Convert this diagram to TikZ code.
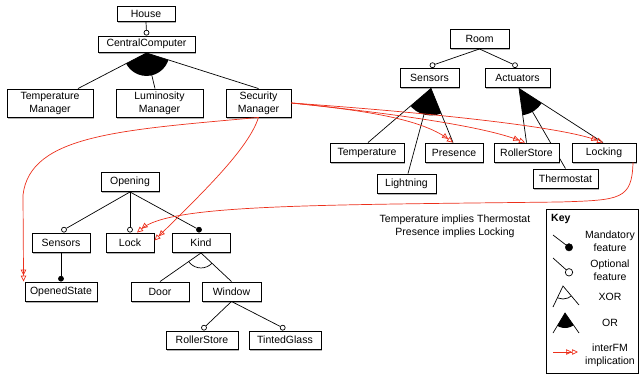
\documentclass[tikz,border=0pt]{standalone}
\usepackage{fontspec}
\setmainfont{Liberation Sans}
\usetikzlibrary{shadows,arrows.meta,calc}
\definecolor{implred}{RGB}{236,48,28}
\pgfdeclarelayer{lines}
\pgfsetlayers{lines,main}

\begin{document}
\begin{tikzpicture}[x=1pt,y=-1pt,
  font=\fontsize{10.5}{13}\selectfont,
  feat/.style={draw=black, line width=0.9pt, fill=white, inner sep=0pt, align=center,
    drop shadow={shadow xshift=1.4pt, shadow yshift=-1.6pt, fill=black, opacity=0.3}},
  conn/.style={draw=black, line width=0.7pt},
  optc/.style={circle, draw=black, fill=white, line width=0.7pt, inner sep=0pt, minimum size=5pt, anchor=south},
  mandc/.style={circle, draw=black, fill=black, line width=0.7pt, inner sep=0pt, minimum size=5pt, anchor=south},
  impl/.style={draw=implred, line width=0.7pt,
    -{Triangle[open,length=6pt,width=5.5pt]Triangle[open,length=6pt,width=5.5pt]}},
  keytext/.style={align=center, inner sep=0pt}
]
\useasboundingbox (0,0) rectangle (640,378);

% ---------- feature boxes ----------
% House model
\node[feat, minimum width=58pt, minimum height=15pt] (House) at (146,14) {House};
\node[feat, minimum width=97pt, minimum height=16pt] (CC) at (146.5,44) {CentralComputer};
\node[feat, minimum width=86pt, minimum height=28pt] (TM) at (50,103) {Temperature\\Manager};
\node[feat, minimum width=87pt, minimum height=28pt] (LM) at (159.5,103) {Luminosity\\Manager};
\node[feat, minimum width=65pt, minimum height=28pt] (SM) at (258.5,103) {Security\\Manager};

% Room model
\node[feat, minimum width=59pt, minimum height=19pt] (Room) at (479.5,39) {Room};
\node[feat, minimum width=59pt, minimum height=19pt] (SensR) at (429.5,78) {Sensors};
\node[feat, minimum width=65pt, minimum height=19pt] (Act) at (517.5,78) {Actuators};
\node[feat, minimum width=74pt, minimum height=19pt] (Temp) at (367,152.5) {Temperature};
\node[feat, minimum width=58pt, minimum height=19pt] (Pres) at (454,152.5) {Presence};
\node[feat, minimum width=65pt, minimum height=19pt] (RSR) at (526.5,152.5) {RollerStore};
\node[feat, minimum width=64pt, minimum height=19pt] (Locking) at (604,152.5) {Locking};
\node[feat, minimum width=59pt, minimum height=19pt] (Light) at (406.5,183.5) {Lightning};
\node[feat, minimum width=65pt, minimum height=19pt] (Thermo) at (565.5,178.5) {Thermostat};

% Opening model
\node[feat, minimum width=58pt, minimum height=19pt] (Opening) at (130,182) {Opening};
\node[feat, minimum width=58pt, minimum height=19pt] (SensL) at (61,242.5) {Sensors};
\node[feat, minimum width=48pt, minimum height=19pt] (Lock) at (130,242.5) {Lock};
\node[feat, minimum width=58pt, minimum height=19pt] (Kind) at (201,242.5) {Kind};
\node[feat, minimum width=72pt, minimum height=19pt] (OS) at (61,291.5) {OpenedState};
\node[feat, minimum width=58pt, minimum height=19pt] (Door) at (160,291.5) {Door};
\node[feat, minimum width=59pt, minimum height=19pt] (Window) at (231.5,291.5) {Window};
\node[feat, minimum width=72pt, minimum height=18pt] (RSL) at (202,340) {RollerStore};
\node[feat, minimum width=72pt, minimum height=18pt] (TG) at (285,340) {TintedGlass};

% ---------- optional / mandatory markers ----------
\node[optc] (oCC) at (CC.north) {};
\node[optc] (oSensR) at ([xshift=3pt]SensR.north) {};
\node[optc] (oAct) at ([xshift=-2.5pt]Act.north) {};
\node[optc] (oSensL) at ([xshift=3pt]SensL.north) {};
\node[optc] (oLock) at (Lock.north) {};
\node[mandc] (mKind) at ([xshift=-2pt]Kind.north) {};
\node[mandc] (mOS) at (OS.north) {};
\node[optc] (oRSL) at ([xshift=2pt]RSL.north) {};
\node[optc] (oTG) at ([xshift=-2.3pt]TG.north) {};

% group apexes and end points
\coordinate (apCC) at ([yshift=-0.5pt]CC.south);
\coordinate (eTM) at ([xshift=28pt]TM.north);
\coordinate (eLM) at ([xshift=-4.5pt]LM.north);
\coordinate (eSM) at (SM.north);
\coordinate (apS) at ([xshift=1.5pt,yshift=-0.5pt]SensR.south);
\coordinate (eTemp) at ([xshift=1pt]Temp.north);
\coordinate (eLight) at ([xshift=1.5pt]Light.north);
\coordinate (ePres) at ([xshift=-1pt]Pres.north);
\coordinate (apA) at ([xshift=1.5pt,yshift=-0.5pt]Act.south);
\coordinate (eRSR) at (RSR.north);
\coordinate (eThermo) at (Thermo.north);
\coordinate (eLocking) at ([xshift=-1pt]Locking.north);
\coordinate (apK) at ([yshift=-0.5pt]Kind.south);

% ---------- parent-child connectors (below the boxes) ----------
\begin{pgfonlayer}{lines}
\draw[conn] (House.south) -- (oCC);
\draw[conn] (Room.south) -- (oSensR);
\draw[conn] (Room.south) -- (oAct);
\draw[conn] (Opening.south) -- (oSensL);
\draw[conn] (Opening.south) -- (oLock);
\draw[conn] (Opening.south) -- (mKind);
\draw[conn] (SensL.south) -- (mOS);
\draw[conn] (Window.south) -- (oRSL);
\draw[conn] (Window.south) -- (oTG);

% OR groups: lines plus filled sector
\foreach \ap/\ea/\eb/\ec/\r in {apCC/eTM/eLM/eSM/23, apS/eTemp/eLight/ePres/27, apA/eRSR/eThermo/eLocking/27}{
  \draw[conn] (\ap) -- (\ea);
  \draw[conn] (\ap) -- (\eb);
  \draw[conn] (\ap) -- (\ec);
  \begin{scope}
    \clip (\ap) -- ($(\ap)!3!(\ea)$) -- ($(\ap)!3!(\ec)$) -- cycle;
    \fill[black] (\ap) circle[radius=\r pt];
  \end{scope}
}

% XOR group under Kind
\draw[conn] (apK) -- (Door.north);
\draw[conn] (apK) -- (Window.north);
\begin{scope}
  \clip (apK) -- ($(apK)!3!(Door.north)$) -- ($(apK)!3!(Window.north)$) -- cycle;
  \draw[conn] (apK) circle[radius=15pt];
\end{scope}
\end{pgfonlayer}

% ---------- inter-model implications ----------
\draw[impl] (SM.east) .. controls (360,110) and (420,118) .. (ePres);
\draw[impl] (SM.east) .. controls (380,112) and (480,125) .. ([xshift=-1.5pt]RSR.north);
\draw[impl] (SM.east) .. controls (420,112) and (560,126) .. (eLocking);
\draw[impl] (SM.south) .. controls (248,150) and (200,195) .. ([yshift=2pt]Lock.east);
\draw[impl] (SM.south) .. controls (120,130) and (30,135) .. (23,195) -- ([xshift=-1pt]OS.north west);
\draw[impl] ([xshift=29pt]Locking.south) .. controls (632,200) and (620,200) .. (560,202)
  .. controls (300,205) and (170,205) .. ([xshift=7pt]Lock.north);

% ---------- constraints ----------
\node[align=center, inner sep=0pt] (cons) at (455,226.5) {Temperature implies Thermostat\\Presence implies Locking};

% ---------- key ----------
\draw[line width=0.9pt] (546,209) rectangle (638,373);
\node[anchor=west, inner sep=0pt, font=\fontsize{10.5}{13}\selectfont\bfseries] (keyt) at (551,219) {Key};

\node[circle, fill=black, draw=black, inner sep=0pt, minimum size=7.4pt] (kM) at (569,247.3) {};
\draw[conn] (553,235) -- (kM);
\node[keytext] at (610,241.5) {Mandatory\\feature};

\node[circle, fill=white, draw=black, line width=0.7pt, inner sep=0pt, minimum size=7.4pt] (kO) at (569,272.3) {};
\draw[conn] (553,258) -- (kO);
\node[keytext] at (610,270.5) {Optional\\feature};

\coordinate (kXa) at (563,286);
\draw[conn] (553,307) -- (kXa) -- (579,305);
\begin{scope}
  \clip (kXa) -- ($(kXa)!2!(553,307)$) -- ($(kXa)!2!(579,305)$) -- cycle;
  \draw[conn] (kXa) circle[radius=13pt];
\end{scope}
\node[keytext] at (610,297) {XOR};

\coordinate (kOa) at (565,313);
\draw[conn] (553,333) -- (kOa) -- (579,333);
\begin{scope}
  \clip (kOa) -- ($(kOa)!2!(553,333)$) -- ($(kOa)!2!(579,333)$) -- cycle;
  \fill[black] (kOa) circle[radius=15pt];
\end{scope}
\node[keytext] at (610,323) {OR};

\draw[impl] (553,352) -- (578,352);
\node[keytext] at (610,355.5) {interFM\\implication};
\end{tikzpicture}
\end{document}
